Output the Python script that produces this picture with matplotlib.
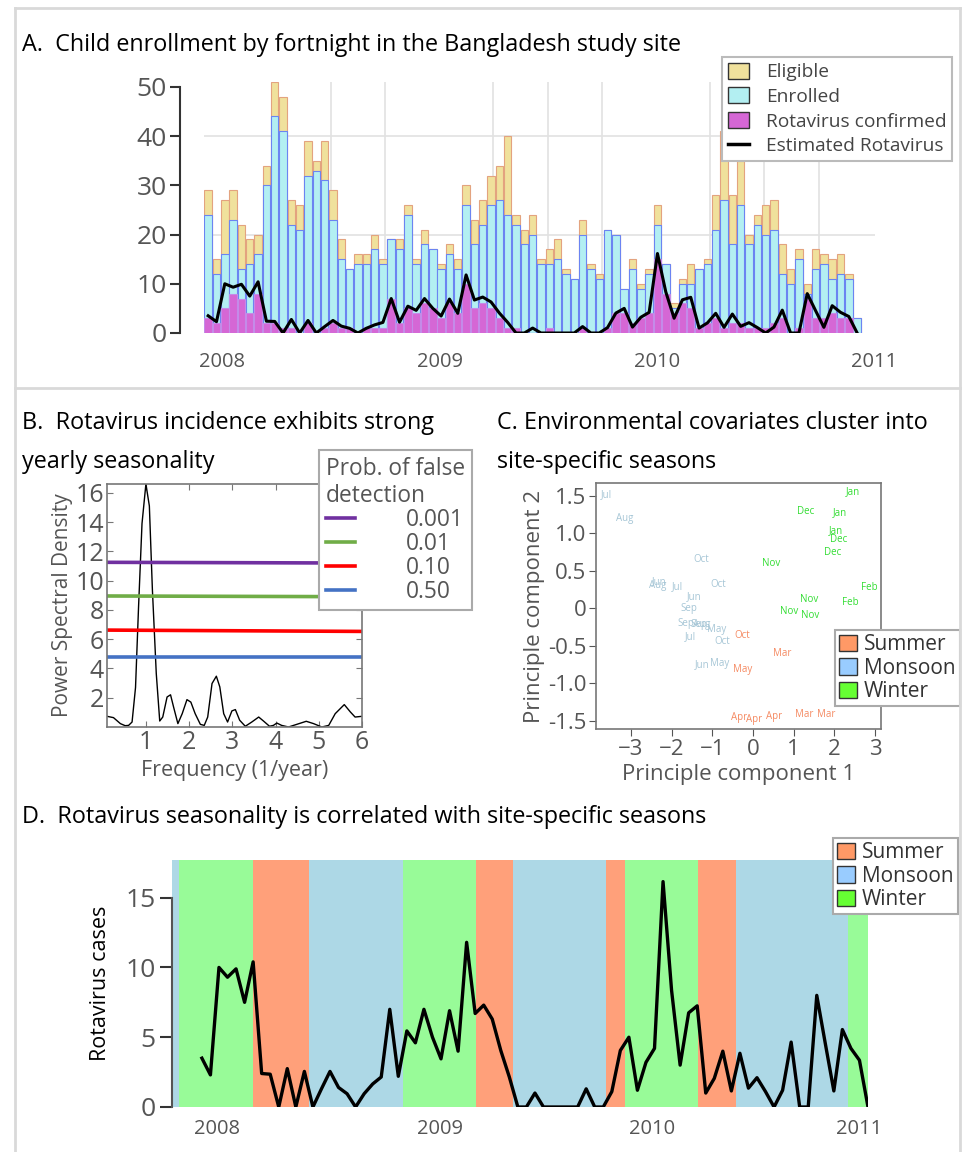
import numpy as np
import pandas as pd
import matplotlib
matplotlib.use('Agg')
import matplotlib.pyplot as plt
import matplotlib.dates as mdates
from matplotlib.patches import Patch
from matplotlib.lines import Line2D
from matplotlib.ticker import MultipleLocator, FixedLocator

plt.rcParams['font.family'] = ['Open Sans', 'DejaVu Sans']

W, H = 966, 1152

# ------------------------------------------------------------------ data
first_fortnight = '2007-12-08'
n_fortnights = 79

eligible = [29, 15, 27, 29, 22, 19, 20, 34, 51, 48, 27, 26, 39, 35, 39, 29, 19, 13, 16, 16,
            20, 15, 19, 19, 26, 15, 21, 17, 14, 18, 15, 30, 23, 27, 32, 34, 40, 24, 21, 24,
            15, 17, 19, 13, 11, 23, 14, 12, 21, 20, 9, 15, 10, 13, 26, 14, 6, 11, 14, 13,
            15, 28, 41, 28, 35, 20, 24, 26, 27, 18, 13, 17, 10, 17, 16, 15, 16, 12, 3]
enrolled = [24, 12, 16, 23, 13, 14, 16, 30, 44, 41, 22, 21, 32, 33, 31, 23, 15, 13, 14, 14,
            17, 14, 19, 17, 24, 14, 18, 17, 13, 16, 13, 26, 18, 22, 26, 27, 24, 22, 18, 20,
            14, 14, 15, 12, 11, 20, 13, 11, 21, 20, 9, 13, 9, 12, 22, 14, 5, 10, 10, 13,
            14, 21, 27, 18, 26, 18, 22, 20, 21, 12, 10, 15, 8, 13, 14, 11, 12, 11, 3]
rota_confirmed = [3, 2, 5, 8, 7, 4, 8, 2, 2, 1, 1, 0, 2, 0, 1, 2, 1, 1, 0, 1,
                  1, 1, 7, 2, 5, 4, 6, 5, 3, 6, 4, 10, 5, 6, 5, 3, 1, 1, 0, 0,
                  0, 1, 0, 0, 0, 1, 0, 0, 1, 4, 4, 2, 3, 4, 15, 8, 4, 6, 5, 1,
                  2, 3, 1, 2, 2, 1, 1, 1, 2, 3, 0, 1, 7, 3, 3, 4, 3, 3, 0]
estimated_rota = [3.5, 2.3, 10.0, 9.3, 9.9, 7.5, 10.4, 2.4, 2.35, 0,
                  2.75, 0, 2.55, 0, 1.3, 2.55, 1.4, 0.95, 0, 0.95,
                  1.65, 2.15, 7.0, 2.2, 5.45, 4.6, 7.0, 5.0, 3.45, 6.9,
                  4.0, 11.8, 6.7, 7.3, 6.3, 4.05, 2.15, 0, 0, 1.0,
                  0, 0, 0, 0, 0, 1.3, 0, 0, 1.1, 4.05,
                  5.0, 1.2, 3.2, 4.2, 16.15, 8.35, 3.0, 6.75, 7.25, 1.0,
                  2.05, 4.0, 1.15, 3.85, 1.35, 2.1, 1.1, 0, 1.2, 4.65,
                  0, 0, 8.0, 4.55, 1.15, 5.55, 4.2, 3.35, 0]
gridline_counts = [20, 40]

# Panel B: periodogram
psd_freq = [0.1, 0.25, 0.41, 0.52, 0.6, 0.68, 0.76, 0.83, 0.91, 1.0, 1.08, 1.15, 1.24, 1.32,
            1.39, 1.49, 1.57, 1.64, 1.74, 1.84, 1.95, 2.04, 2.14, 2.26, 2.35, 2.43, 2.53,
            2.63, 2.71, 2.8, 2.89, 2.99, 3.07, 3.17, 3.3, 3.45, 3.61, 3.72, 3.86, 3.95, 4.03,
            4.14, 4.3, 4.49, 4.71, 4.88, 5.07, 5.23, 5.38, 5.59, 5.73, 5.84, 6.0]
psd_value = [0.73, 0.64, 0.23, 0.09, 0.11, 0.34, 2.7, 8.2, 13.9, 16.6, 15.1, 9.4, 3.65, 0.41,
             0.68, 2.05, 2.2, 1.37, 0.23, 0.91, 1.87, 1.7, 0.91, 0.18, 0.11, 0.68, 2.97,
             3.47, 2.74, 0.91, 0.34, 1.1, 1.19, 0.46, 0.05, 0.34, 0.68, 0.41, 0.05, 0.11, 0.27,
             0.11, 0.0, 0.18, 0.39, 0.23, 0.0, 0.11, 0.91, 1.53, 1.03, 0.68, 0.73]
fap_labels = ['0.001', '0.01', '0.10', '0.50']
fap_level_start = [11.25, 8.95, 6.62, 4.75]
fap_level_end = [11.2, 8.9, 6.53, 4.75]
fap_colors = ['#7030a0', '#70ad47', '#ff0000', '#4472c4']

# Panel C: PCA of monthly environmental covariates
pc_month = ['Jul', 'Aug', 'Oct', 'Jun', 'Aug', 'Jul', 'Oct', 'Jun', 'Sep', 'Sep', 'Sep', 'Aug',
            'May', 'Jul', 'Oct', 'Jun', 'May',
            'Oct', 'Mar', 'May', 'Apr', 'Apr', 'Apr', 'Mar', 'Mar',
            'Jan', 'Dec', 'Jan', 'Jan', 'Dec', 'Dec', 'Nov', 'Feb', 'Nov', 'Feb', 'Nov', 'Nov']
pc1 = [-3.61, -3.15, -1.26, -2.30, -2.34, -1.87, -0.85, -1.44, -1.57, -1.64, -1.34, -1.27,
       -0.89, -1.55, -0.76, -1.25, -0.83,
       -0.27, 0.71, -0.26, -0.33, 0.02, 0.51, 1.25, 1.81,
       2.45, 1.29, 2.15, 2.05, 2.10, 1.97, 0.45, 2.86, 1.38, 2.40, 0.88, 1.41]
pc2 = [1.51, 1.19, 0.65, 0.35, 0.30, 0.29, 0.32, 0.16, -0.01, -0.20, -0.21, -0.22,
       -0.28, -0.38, -0.45, -0.75, -0.74,
       -0.37, -0.60, -0.82, -1.46, -1.48, -1.45, -1.42, -1.42,
       1.55, 1.29, 1.28, 1.04, 0.91, 0.74, 0.59, 0.28, 0.11, 0.08, -0.04, -0.10]
pc_season = ['Monsoon'] * 17 + ['Summer'] * 8 + ['Winter'] * 12

# Panel D: seasons
season_start = ['2007-10-20', '2007-11-01', '2008-03-01', '2008-06-01', '2008-11-01',
                '2009-03-01', '2009-05-01', '2009-10-01', '2009-11-01', '2010-03-01',
                '2010-05-01', '2010-11-01']
season_name = ['Monsoon', 'Winter', 'Summer', 'Monsoon', 'Winter', 'Summer', 'Monsoon',
               'Summer', 'Winter', 'Summer', 'Monsoon', 'Winter']
season_legend = ['Summer', 'Monsoon', 'Winter']

# ------------------------------------------------------------------ styles
band_color = {'Summer': '#ffa07a', 'Monsoon': '#add8e6', 'Winter': '#98fb98'}
legend_color = {'Summer': '#ff9966', 'Monsoon': '#99ccff', 'Winter': '#66ff33'}
text_color = {'Summer': '#f58a62', 'Monsoon': '#a6c6d6', 'Winter': '#33dd33'}
GRAY = '#555555'
TITLE = 16.8

dates = pd.date_range(first_fortnight, periods=n_fortnights, freq='14D')
xd = mdates.date2num(dates)

fig = plt.figure(figsize=(W / 100, H / 100), dpi=100)


def rect(l, t, r, b):
    return [l / W, 1 - b / H, (r - l) / W, (b - t) / H]


def ftext(px, py, s, **kw):
    fig.text(px / W, 1 - py / H, s, **kw)


def dnum(s):
    return mdates.date2num(pd.Timestamp(s))


# panel frames
for (x0, y0, x1, y1) in [(15, 8, 960, 8), (15, 8, 15, 1152), (960, 8, 960, 1152), (15, 388, 960, 388)]:
    fig.add_artist(Line2D([x0 / W, x1 / W], [1 - y0 / H, 1 - y1 / H], color='#d9d9d9', lw=2))

# ------------------------------------------------------------------ Panel A
ftext(22, 45, 'A.  Child enrollment by fortnight in the Bangladesh study site',
      fontsize=TITLE, va='center', ha='left')
axA = fig.add_axes(rect(204, 82, 875, 333))
bw = 12.5
axA.bar(xd, eligible, width=bw, color='#f0e19c', edgecolor='#e3a37f', lw=0.8, zorder=2)
axA.bar(xd, enrolled, width=bw, color='#b3eff2', edgecolor='#6b84f2', lw=0.8, zorder=3)
axA.bar(xd, rota_confirmed, width=bw, color='#d567d5', edgecolor='#c48be8', lw=0.8, zorder=4)
axA.plot(xd, estimated_rota, color='black', lw=2.2, zorder=5)
for g in gridline_counts:
    axA.axhline(g, color='#e2e2e2', lw=1.2, zorder=0)
axA.set_xlim(dnum('2007-12-01'), dnum('2011-01-03'))
axA.set_ylim(0, 51)
axA.xaxis.set_minor_locator(mdates.MonthLocator(bymonth=[1, 4, 7, 10]))
axA.xaxis.set_major_locator(FixedLocator([dnum(s) for s in ['2008-01-01', '2009-01-01', '2010-01-01', '2011-01-01']]))
axA.xaxis.set_major_formatter(mdates.DateFormatter('%Y'))
axA.yaxis.set_major_locator(MultipleLocator(10))
axA.grid(which='minor', axis='x', color='#e2e2e2', lw=1.2, zorder=0)
axA.set_axisbelow(True)
for s in ['top', 'right', 'bottom']:
    axA.spines[s].set_visible(False)
axA.spines['left'].set_position(('outward', 17))
axA.spines['left'].set_bounds(0, 50)
axA.spines['left'].set_color('#333333')
axA.spines['left'].set_linewidth(1.5)
axA.tick_params(axis='y', which='major', direction='out', length=7, width=1.5, color='#333333',
                labelcolor=GRAY, labelsize=19, pad=3)
axA.tick_params(axis='x', which='both', length=0, labelcolor=GRAY, labelsize=14.5, pad=14)
hA = [Patch(fc='#f0e19c', ec='#333333'), Patch(fc='#b3eff2', ec='#333333'),
      Patch(fc='#d567d5', ec='#333333'), Line2D([], [], color='black', lw=2.5)]
legA = axA.legend(hA, ['Eligible', 'Enrolled', 'Rotavirus confirmed', 'Estimated Rotavirus'],
                  loc='upper left', bbox_to_anchor=(722 / W, 1 - 57 / H), bbox_transform=fig.transFigure,
                  borderaxespad=0, fontsize=13.8, labelcolor='#444444', fancybox=False,
                  edgecolor='#bbbbbb', framealpha=1, borderpad=0.3, labelspacing=0.32,
                  handlelength=1.1, handleheight=0.9, handletextpad=0.9)
legA.get_frame().set_linewidth(1.5)
legA.set_zorder(10)

# ------------------------------------------------------------------ Panel B
ftext(22, 423, 'B.  Rotavirus incidence exhibits strong', fontsize=TITLE, va='center')
ftext(22, 462, 'yearly seasonality', fontsize=TITLE, va='center')
axB = fig.add_axes(rect(107, 484, 362, 727))
axB.plot(psd_freq, psd_value, color='black', lw=1)
for lab, y0, y1, c in zip(fap_labels, fap_level_start, fap_level_end, fap_colors):
    axB.plot([0.1, 6.0], [y0, y1], color=c, lw=2.6, label=lab)
axB.set_xlim(0.1, 6)
axB.set_ylim(0, 16.6)
axB.set_xticks([1, 2, 3, 4, 5, 6])
axB.set_yticks([2, 4, 6, 8, 10, 12, 14, 16])
for s in axB.spines.values():
    s.set_color('#777777')
    s.set_linewidth(1.2)
axB.tick_params(direction='in', top=True, right=True, length=4, color='#777777',
                labelcolor=GRAY, labelsize=18, pad=2)
axB.set_ylabel('Power Spectral Density', color=GRAY, fontsize=15, labelpad=2)
axB.set_xlabel('Frequency (1/year)', color=GRAY, fontsize=15.5, labelpad=4)
legB = axB.legend(title='Prob. of false\ndetection', loc='upper left',
                  bbox_to_anchor=(319 / W, 1 - 450 / H), bbox_transform=fig.transFigure,
                  borderaxespad=0, fontsize=16.4, title_fontsize=16.4, labelcolor=GRAY,
                  alignment='left', fancybox=False, edgecolor='#aaaaaa', framealpha=1,
                  borderpad=0.3, labelspacing=0.0, handlelength=1.3, handletextpad=2.2)
legB.get_title().set_color(GRAY)
legB.get_title().set_linespacing(1.15)
legB.get_frame().set_linewidth(1.5)

# ------------------------------------------------------------------ Panel C
ftext(497, 423, 'C. Environmental covariates cluster into', fontsize=TITLE, va='center')
ftext(497, 462, 'site-specific seasons', fontsize=TITLE, va='center')
axC = fig.add_axes(rect(596, 483, 881, 729))
for m, a, b, s in zip(pc_month, pc1, pc2, pc_season):
    axC.text(a, b, m, color=text_color[s], fontsize=7, ha='center', va='center')
axC.set_xlim(-3.86, 3.15)
axC.set_ylim(-1.61, 1.67)
axC.set_xticks([-3, -2, -1, 0, 1, 2, 3])
axC.set_yticks([-1.5, -1.0, -0.5, 0, 0.5, 1.0, 1.5])
axC.set_yticklabels(['-1.5', '-1.0', '-0.5', '0', '0.5', '1.0', '1.5'])
for s in axC.spines.values():
    s.set_color('#777777')
    s.set_linewidth(1.2)
axC.tick_params(direction='out', length=5, color='#555555', labelcolor=GRAY, labelsize=16, pad=2)
axC.set_ylabel('Principle component 2', color=GRAY, fontsize=16, labelpad=2)
axC.set_xlabel('Principle component 1', color=GRAY, fontsize=16, labelpad=3)
season_handles = [Patch(fc=legend_color[s], ec='#333333') for s in season_legend]
leg_kw = dict(loc='upper left', bbox_transform=fig.transFigure, borderaxespad=0, fontsize=15,
              labelcolor='#333333', fancybox=False, edgecolor='#aaaaaa', framealpha=1,
              borderpad=0.2, labelspacing=0.12, handlelength=0.85, handleheight=0.85,
              handletextpad=0.35)
legC = axC.legend(season_handles, season_legend, bbox_to_anchor=(835 / W, 1 - 630 / H), **leg_kw)
legC.get_frame().set_linewidth(1.5)

# ------------------------------------------------------------------ Panel D
ftext(22, 817, 'D.  Rotavirus seasonality is correlated with site-specific seasons',
      fontsize=TITLE, va='center')
axD = fig.add_axes(rect(172, 860, 868, 1107))
x_end = xd[-1]
starts = [dnum(s) for s in season_start] + [x_end]
for i, name in enumerate(season_name):
    axD.axvspan(starts[i], starts[i + 1], color=band_color[name], lw=0, zorder=0)
axD.plot(xd, estimated_rota, color='black', lw=2.4, zorder=3)
axD.set_xlim(starts[0], x_end)
axD.set_ylim(0, 17.7)
axD.set_yticks([0, 5, 10, 15])
axD.xaxis.set_major_locator(FixedLocator([dnum(s) for s in ['2008-01-01', '2009-01-01', '2009-12-15', '2010-11-20']]))
axD.set_xticklabels(['2008', '2009', '2010', '2011'])
for s in ['top', 'right', 'bottom']:
    axD.spines[s].set_visible(False)
axD.spines['left'].set_bounds(0, 15)
axD.spines['left'].set_color('#555555')
axD.spines['left'].set_linewidth(1.5)
axD.tick_params(axis='y', direction='out', length=9, width=1.5, color='#333333',
                labelcolor=GRAY, labelsize=19, pad=3)
axD.tick_params(axis='x', length=0, labelcolor=GRAY, labelsize=14.5, pad=9)
axD.set_ylabel('Rotavirus cases', fontsize=15.5, labelpad=10)
legD = axD.legend([Patch(fc=legend_color[s], ec='#333333') for s in season_legend], season_legend,
                  bbox_to_anchor=(833 / W, 1 - 838 / H), **leg_kw)
legD.get_frame().set_linewidth(1.5)

fig.savefig('out.png', dpi=100)
